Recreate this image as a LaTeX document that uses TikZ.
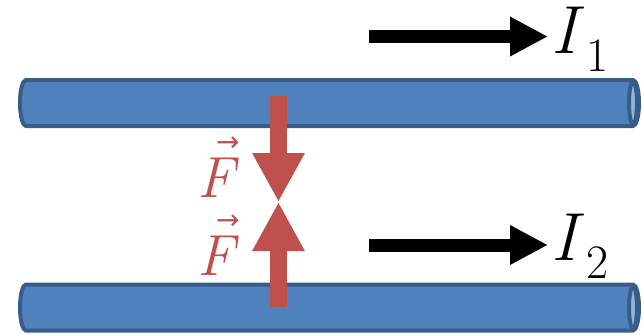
\documentclass[tikz,border=0pt]{standalone}
\usepackage{fontspec}
\newfontfamily\arrowfont{DejaVu Sans}
\usetikzlibrary{arrows.meta}
\definecolor{wireblue}{HTML}{4F81BD}
\definecolor{wireedge}{HTML}{385D8A}
\definecolor{wireface}{HTML}{95B3D7}
\definecolor{forcered}{HTML}{C0504D}
\newcommand{\curlabel}[1]{\textit{I}\kern1pt\raisebox{-9pt}{\fontsize{24}{24}\selectfont #1}}
\newcommand{\forcelabel}{\textit{F}\llap{\raisebox{23pt}{\fontsize{14}{14}\selectfont\arrowfont →}}}
\begin{document}
\begin{tikzpicture}[x=0.5pt, y=0.5pt,
  wire/.style={fill=wireblue, draw=wireedge, line width=2pt},
  wireend/.style={fill=wireface, draw=wireedge, line width=2pt},
  current/.style={line width=6.5pt, -{Triangle[length=19pt, width=18.5pt]}},
  force/.style={forcered, line width=8.5pt, -{Triangle[length=24.5pt, width=24.5pt]}},
  every node/.style={inner sep=0pt}]
\useasboundingbox (0,0) rectangle (642,334);
% wires
\draw[wire] (633,254) -- (26,254) arc[start angle=90, end angle=270, x radius=6, y radius=23] -- (633,208) arc[start angle=-90, end angle=90, x radius=6, y radius=23] -- cycle;
\draw[wireend] (633,231) ellipse[x radius=4, y radius=21];
\draw[wire] (633,49.5) -- (26,49.5) arc[start angle=90, end angle=270, x radius=6, y radius=23] -- (633,3.5) arc[start angle=-90, end angle=90, x radius=6, y radius=23] -- cycle;
\draw[wireend] (633,26.5) ellipse[x radius=4, y radius=21];
% currents
\coordinate (c1a) at (369,297.5);
\coordinate (c1b) at (548,297.5);
\coordinate (c2a) at (369,89);
\coordinate (c2b) at (548,89);
\draw[current] (c1a) -- (c1b);
\draw[current] (c2a) -- (c2b);
\node[anchor=base west, font=\fontsize{34}{34}\selectfont] (i1) at (551,281) {\curlabel{1}};
\node[anchor=base west, font=\fontsize{34}{34}\selectfont] (i2) at (551,74) {\curlabel{2}};
% forces
\coordinate (ftop) at (278.5,238);
\coordinate (fmid) at (278.5,132);
\coordinate (fbot) at (278.5,27);
\draw[force] (ftop) -- (fmid);
\draw[force] (fbot) -- (fmid);
\node[anchor=base east, text=forcered, font=\fontsize{29}{29}\selectfont] (f1) at (240,137) {\forcelabel};
\node[anchor=base east, text=forcered, font=\fontsize{29}{29}\selectfont] (f2) at (240,59) {\forcelabel};
\end{tikzpicture}
\end{document}
